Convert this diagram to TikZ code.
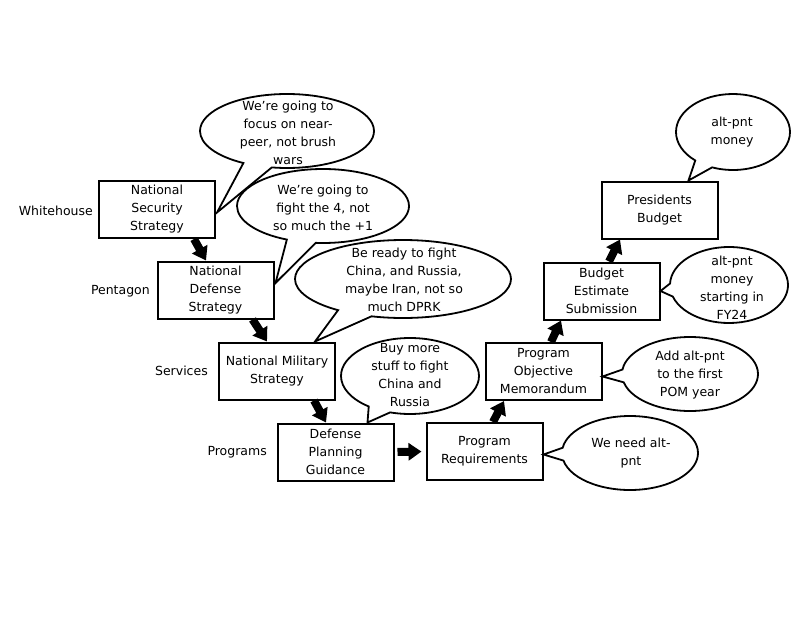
\documentclass[tikz,border=0pt]{standalone}
\usepackage{fontspec}
\setmainfont{DejaVu Sans}
\usetikzlibrary{shapes.callouts,shapes.geometric,arrows.meta,calc}
\begin{document}
\begin{tikzpicture}[x=1pt,y=-1pt,
  every node/.style={font=\fontsize{12.5pt}{18pt}\selectfont},
  box/.style={draw, line width=2pt, rectangle, minimum width=116pt, minimum height=57pt, align=center, inner sep=2pt},
  side/.style={anchor=east, inner sep=0pt},
  bubble/.style={ellipse callout, draw, fill=white, line width=1.8pt, callout pointer arc=20, inner sep=0pt},
  btext/.style={align=center, inner sep=0pt},
  blockarrow/.style={line width=8pt, -{Triangle[length=13pt,width=17pt]}},
]
\useasboundingbox (0,0) rectangle (800,618);

% process boxes
\node[box] (nss) at (157,209.5) {National\\Security\\Strategy};
\node[box] (nds) at (215.5,290) {National\\Defense\\Strategy};
\node[box] (nms) at (277,371) {National Military\\Strategy};
\node[box] (dpg) at (335.5,452) {Defense\\Planning\\Guidance};
\node[box] (pr) at (484.5,451.5) {Program\\Requirements};
\node[box] (pom) at (543.5,371.5) {Program\\Objective\\Memorandum};
\node[box] (bes) at (601.5,291) {Budget\\Estimate\\Submission};
\node[box] (pb) at (659.5,210) {Presidents\\Budget};

% level labels
\node[side] (wh) at (93,211) {Whitehouse};
\node[side] (pent) at (150,291) {Pentagon};
\node[side] (serv) at (208,371) {Services};
\node[side] (prog) at (267,452) {Programs};

% callouts
\node[bubble, minimum width=174pt, minimum height=74pt, callout absolute pointer={($(nss.east)+(1,3)$)}] (c1) at (287,131) {};
\node[btext] (t1) at (288,133) {We’re going to\\focus on near-\\peer, not brush\\wars};

\node[bubble, minimum width=172pt, minimum height=74pt, callout absolute pointer={($(nds.east)+(1,-7)$)}] (c2) at (323,206) {};
\node[btext] (t2) at (323,208) {We’re going to\\fight the 4, not\\so much the +1};

\node[bubble, minimum width=216pt, minimum height=78pt, callout absolute pointer={($(nms.north)+(38,0)$)}] (c3) at (403,279) {};
\node[btext] (t3) at (404,280) {Be ready to fight\\China, and Russia,\\maybe Iran, not so\\much DPRK};

\node[bubble, minimum width=138pt, minimum height=76pt, callout absolute pointer={($(dpg.north)+(32,0)$)}] (c4) at (410,376) {};
\node[btext] (t4) at (410,375) {Buy more\\stuff to fight\\China and\\Russia};

\node[bubble, minimum width=136pt, minimum height=74pt, callout absolute pointer={($(pr.east)+(0,3)$)}] (c5) at (630,453) {};
\node[btext] (t5) at (631,453) {We need alt-\\pnt};

\node[bubble, minimum width=136pt, minimum height=74pt, callout absolute pointer={($(pom.east)+(0,5)$)}] (c6) at (690,374) {};
\node[btext] (t6) at (690,375) {Add alt-pnt\\to the first\\POM year};

\node[bubble, minimum width=118pt, minimum height=76pt, callout absolute pointer={(bes.east)}] (c7) at (729,285) {};
\node[btext] (t7) at (732,288) {alt-pnt\\money\\starting in\\FY24};

\node[bubble, minimum width=114pt, minimum height=76pt, callout absolute pointer={($(pb.north)+(29,0)$)}] (c8) at (733,132) {};
\node[btext] (t8) at (732,132) {alt-pnt\\money};

% block arrows
\draw[blockarrow] ($(nss.south)+(37,0)$) -- ($(nds.north)+(-9.5,0)$);
\draw[blockarrow] ($(nds.south)+(37,0)$) -- ($(nms.north)+(-10,0)$);
\draw[blockarrow] ($(nms.south)+(37,0)$) -- ($(dpg.north)+(-9.5,0)$);
\draw[blockarrow, shorten <=3pt, shorten >=4pt] (dpg.east) -- (pr.west);
\draw[blockarrow] ($(pr.north)+(8.5,0)$) -- ($(pom.south)+(-39.5,0)$);
\draw[blockarrow] ($(pom.north)+(7.5,0)$) -- ($(bes.south)+(-40.5,0)$);
\draw[blockarrow] ($(bes.north)+(7.5,0)$) -- ($(pb.south)+(-39.5,0)$);
\end{tikzpicture}
\end{document}
